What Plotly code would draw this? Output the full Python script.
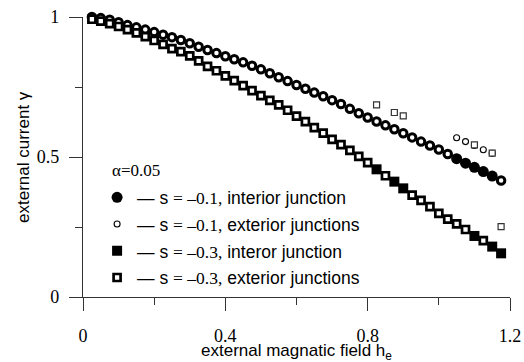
import plotly.graph_objects as go

# external magnetic field values (grid of the computed points)
h = [0.025, 0.05, 0.075, 0.1, 0.125, 0.15, 0.175, 0.2, 0.225, 0.25,
     0.275, 0.3, 0.325, 0.35, 0.375, 0.4, 0.425, 0.45, 0.475, 0.5,
     0.525, 0.55, 0.575, 0.6, 0.625, 0.65, 0.675, 0.7, 0.725, 0.75,
     0.775, 0.8, 0.825, 0.85, 0.875, 0.9, 0.925, 0.95, 0.975, 1.0,
     1.025, 1.05, 1.075, 1.1, 1.125, 1.15, 1.175]

# critical current, s = -0.1
g_s01 = [1.0, 0.996, 0.990, 0.981, 0.971, 0.963, 0.955, 0.946, 0.937, 0.928,
         0.918, 0.906, 0.894, 0.882, 0.871, 0.860, 0.849, 0.838, 0.826, 0.813,
         0.799, 0.785, 0.771, 0.757, 0.744, 0.730, 0.717, 0.703, 0.689, 0.672,
         0.656, 0.641, 0.627, 0.613, 0.599, 0.585, 0.570, 0.555, 0.541, 0.527,
         0.511, 0.494, 0.478, 0.463, 0.448, 0.432, 0.416]

# critical current, s = -0.3
g_s03 = [0.992, 0.985, 0.976, 0.966, 0.955, 0.943, 0.930, 0.916, 0.902, 0.887,
         0.876, 0.861, 0.843, 0.824, 0.808, 0.790, 0.773, 0.755, 0.737, 0.719,
         0.702, 0.686, 0.667, 0.646, 0.626, 0.605, 0.585, 0.563, 0.544, 0.524,
         0.502, 0.480, 0.456, 0.433, 0.412, 0.388, 0.364, 0.345, 0.323, 0.299,
         0.278, 0.261, 0.241, 0.218, 0.201, 0.180, 0.156]

# fields where the interior junction switches first
s01_interior_h = [1.05, 1.075, 1.1, 1.125, 1.15]
s03_interior_h = [0.825, 0.875, 0.9, 1.1, 1.15, 1.175]

# exterior-junction values at those fields (small markers)
s01_ext_h = [1.05, 1.075, 1.1, 1.125, 1.15]
s01_ext_g = [0.569, 0.555, 0.541, 0.526, 0.513]
s03_ext_h = [0.825, 0.875, 0.9, 1.1, 1.15, 1.175]
s03_ext_g = [0.686, 0.659, 0.647, 0.543, 0.514, 0.251]

labels = [
    "— s <span style=\"font-family:Liberation Serif\">= –0.1,</span> interior junction",
    "— s <span style=\"font-family:Liberation Serif\">= –0.1,</span> exterior junctions",
    "— s <span style=\"font-family:Liberation Serif\">= –0.3,</span> interor junction",
    "— s <span style=\"font-family:Liberation Serif\">= –0.3,</span> exterior junctions",
]
alpha_label = "α=0.05"
x_title = "external magnatic field h<sub>e</sub>"
y_title = "external current γ"


def split(xs, ys, sel):
    inn = [i for i, x in enumerate(xs) if any(abs(x - s) < 1e-9 for s in sel)]
    out = [i for i in range(len(xs)) if i not in inn]
    return ([xs[i] for i in out], [ys[i] for i in out],
            [xs[i] for i in inn], [ys[i] for i in inn])


x1o, y1o, x1i, y1i = split(h, g_s01, s01_interior_h)
x3o, y3o, x3i, y3i = split(h, g_s03, s03_interior_h)

fig = go.Figure()

fig.add_trace(go.Scatter(x=x1o, y=y1o, mode="markers", showlegend=False,
                         marker=dict(symbol="circle", size=7.5, color="white",
                                     line=dict(color="black", width=3)),
                         cliponaxis=False))
fig.add_trace(go.Scatter(x=x1i, y=y1i, mode="markers", name=labels[0],
                         legendrank=1, legendgroup="a",
                         marker=dict(symbol="circle", size=11, color="black",
                                     line=dict(color="black", width=0)),
                         cliponaxis=False))
fig.add_trace(go.Scatter(x=x3o, y=y3o, mode="markers", name=labels[3],
                         legendrank=4, legendgroup="d",
                         marker=dict(symbol="square", size=7, color="white",
                                     line=dict(color="black", width=2.7)),
                         cliponaxis=False))
fig.add_trace(go.Scatter(x=x3i, y=y3i, mode="markers", name=labels[2],
                         legendrank=3, legendgroup="c",
                         marker=dict(symbol="square", size=10, color="black",
                                     line=dict(color="black", width=0)),
                         cliponaxis=False))
fig.add_trace(go.Scatter(x=s01_ext_h, y=s01_ext_g, mode="markers", name=labels[1],
                         legendrank=2, legendgroup="b",
                         marker=dict(symbol="circle", size=6, color="white",
                                     line=dict(color="black", width=1.1)),
                         cliponaxis=False))
fig.add_trace(go.Scatter(x=s03_ext_h, y=s03_ext_g, mode="markers", showlegend=False,
                         marker=dict(symbol="square", size=6, color="white",
                                     line=dict(color="#333333", width=1.2)),
                         cliponaxis=False))

axis_common = dict(showgrid=False, zeroline=False, showline=True,
                   linecolor="#333333", linewidth=1.4, ticks="outside",
                   ticklen=13, tickwidth=1.4, tickcolor="#333333",
                   tickfont=dict(family="Liberation Serif", size=18, color="black"))

fig.update_xaxes(range=[0, 1.2], tick0=0, dtick=0.4, ticklabelstandoff=9,
                 minor=dict(dtick=0.2, ticks="outside", ticklen=7,
                            tickwidth=1.4, tickcolor="#333333"),
                 **axis_common)
fig.update_yaxes(range=[0, 1], tick0=0, dtick=0.5, ticklabelstandoff=6,
                 minor=dict(dtick=0.25, ticks="outside", ticklen=7,
                            tickwidth=1.4, tickcolor="#333333"),
                 **axis_common)

fig.add_annotation(x=0.5, y=(297 - 352) / 280, xref="paper", yref="paper",
                   xanchor="center", yanchor="middle", showarrow=False,
                   text=x_title,
                   font=dict(family="Liberation Sans", size=17, color="black"))

fig.add_annotation(x=(23 - 83) / 427, y=0.5, xref="paper", yref="paper",
                   xanchor="center", yanchor="middle", showarrow=False,
                   textangle=-90, text=y_title,
                   font=dict(family="Liberation Sans", size=17, color="black"))

fig.add_annotation(x=(110 - 83) / 427, y=(297 - 170) / 280, xref="paper", yref="paper",
                   xanchor="left", yanchor="middle", showarrow=False,
                   text=alpha_label,
                   font=dict(family="Liberation Serif", size=17, color="black"))

fig.update_layout(width=524, height=362,
                  margin=dict(l=83, r=14, t=17, b=65, autoexpand=False),
                  paper_bgcolor="white", plot_bgcolor="white",
                  showlegend=True,
                  legend=dict(x=0.033, y=0.42, xanchor="left", yanchor="top",
                              bgcolor="rgba(0,0,0,0)", borderwidth=0,
                              traceorder="grouped", tracegroupgap=1,
                              font=dict(family="Liberation Sans", size=17.5, color="black")))

fig.write_html("out.html", config={"displayModeBar": False},
               post_script="document.body.style.margin='0px';")
